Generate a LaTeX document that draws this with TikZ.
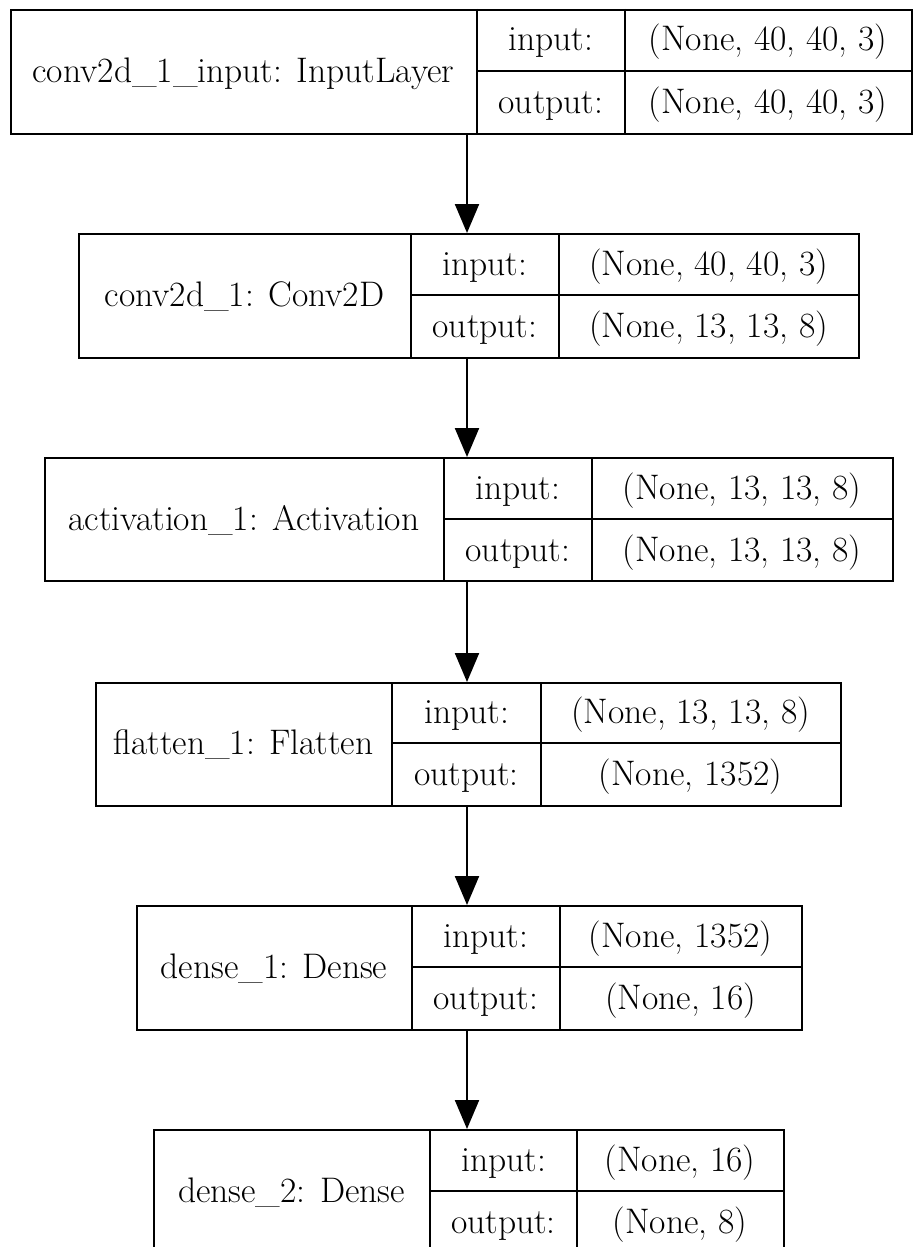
\documentclass[tikz,border=0pt]{standalone}
\usepackage{fontspec}
\usetikzlibrary{arrows.meta}
\tikzset{
  layerbox/.style={draw, line width=2.2pt, inner sep=0pt, anchor=north west},
  cellline/.style={line width=2.2pt},
  txt/.style={anchor=base, inner sep=0pt, font=\rmfamily\fontsize{35.5}{42}\selectfont\addfontfeatures{FakeBold=0.6}},
  arr/.style={line width=2.2pt, -{Triangle[length=29pt,width=24pt]}}
}
\begin{document}
\begin{tikzpicture}[x=1pt,y=-1pt]
\useasboundingbox (0,0) rectangle (914,1247);
\coordinate (ax) at (467,0);
% layer 1
\node[layerbox, minimum width=901pt, minimum height=124pt] (b1) at (10,9) {};
\draw[cellline] (477,9) -- (477,133) (625,9) -- (625,133) (477,71) -- (911,71);
\node[txt] (l1) at (243.5,82) {conv2d\_1\_input: InputLayer};
\node[txt] (i1) at (551,51) {input:};
\node[txt] (o1) at (551,113) {output:};
\node[txt] (iv1) at (768,51) {(None, 40, 40, 3)};
\node[txt] (ov1) at (768,113) {(None, 40, 40, 3)};
% layer 2
\node[layerbox, minimum width=780pt, minimum height=124pt] (b2) at (78,233) {};
\draw[cellline] (411,233) -- (411,357) (559,233) -- (559,357) (411,295) -- (858,295);
\node[txt] (l2) at (244.5,306) {conv2d\_1: Conv2D};
\node[txt] (i2) at (485,275) {input:};
\node[txt] (o2) at (485,337) {output:};
\node[txt] (iv2) at (708.5,275) {(None, 40, 40, 3)};
\node[txt] (ov2) at (708.5,337) {(None, 13, 13, 8)};
% layer 3
\node[layerbox, minimum width=848pt, minimum height=123pt] (b3) at (44,457) {};
\draw[cellline] (444,457) -- (444,580) (592,457) -- (592,580) (444,519) -- (892,519);
\node[txt] (l3) at (244,530) {activation\_1: Activation};
\node[txt] (i3) at (518,499) {input:};
\node[txt] (o3) at (518,561) {output:};
\node[txt] (iv3) at (742,499) {(None, 13, 13, 8)};
\node[txt] (ov3) at (742,561) {(None, 13, 13, 8)};
% layer 4
\node[layerbox, minimum width=745pt, minimum height=123pt] (b4) at (95,682) {};
\draw[cellline] (392,682) -- (392,805) (541,682) -- (541,805) (392,743) -- (840,743);
\node[txt] (l4) at (243.5,754) {flatten\_1: Flatten};
\node[txt] (i4) at (466.5,723.5) {input:};
\node[txt] (o4) at (466.5,785) {output:};
\node[txt] (iv4) at (690.5,723.5) {(None, 13, 13, 8)};
\node[txt] (ov4) at (690.5,785) {(None, 1352)};
% layer 5
\node[layerbox, minimum width=665pt, minimum height=124pt] (b5) at (136,905) {};
\draw[cellline] (412,905) -- (412,1029) (560,905) -- (560,1029) (412,967) -- (801,967);
\node[txt] (l5) at (274,978) {dense\_1: Dense};
\node[txt] (i5) at (486,947) {input:};
\node[txt] (o5) at (486,1009) {output:};
\node[txt] (iv5) at (680.5,947) {(None, 1352)};
\node[txt] (ov5) at (680.5,1009) {(None, 16)};
% layer 6
\node[layerbox, minimum width=630pt, minimum height=124pt] (b6) at (153,1129) {};
\draw[cellline] (430,1129) -- (430,1253) (577,1129) -- (577,1253) (430,1191) -- (783,1191);
\node[txt] (l6) at (291.5,1202) {dense\_2: Dense};
\node[txt] (i6) at (503.5,1171) {input:};
\node[txt] (o6) at (503.5,1233) {output:};
\node[txt] (iv6) at (680,1171) {(None, 16)};
\node[txt] (ov6) at (680,1233) {(None, 8)};
% arrows
\draw[arr] (b1.south -| ax) -- (b2.north -| ax);
\draw[arr] (b2.south -| ax) -- (b3.north -| ax);
\draw[arr] (b3.south -| ax) -- (b4.north -| ax);
\draw[arr] (b4.south -| ax) -- (b5.north -| ax);
\draw[arr] (b5.south -| ax) -- (b6.north -| ax);
\end{tikzpicture}
\end{document}
